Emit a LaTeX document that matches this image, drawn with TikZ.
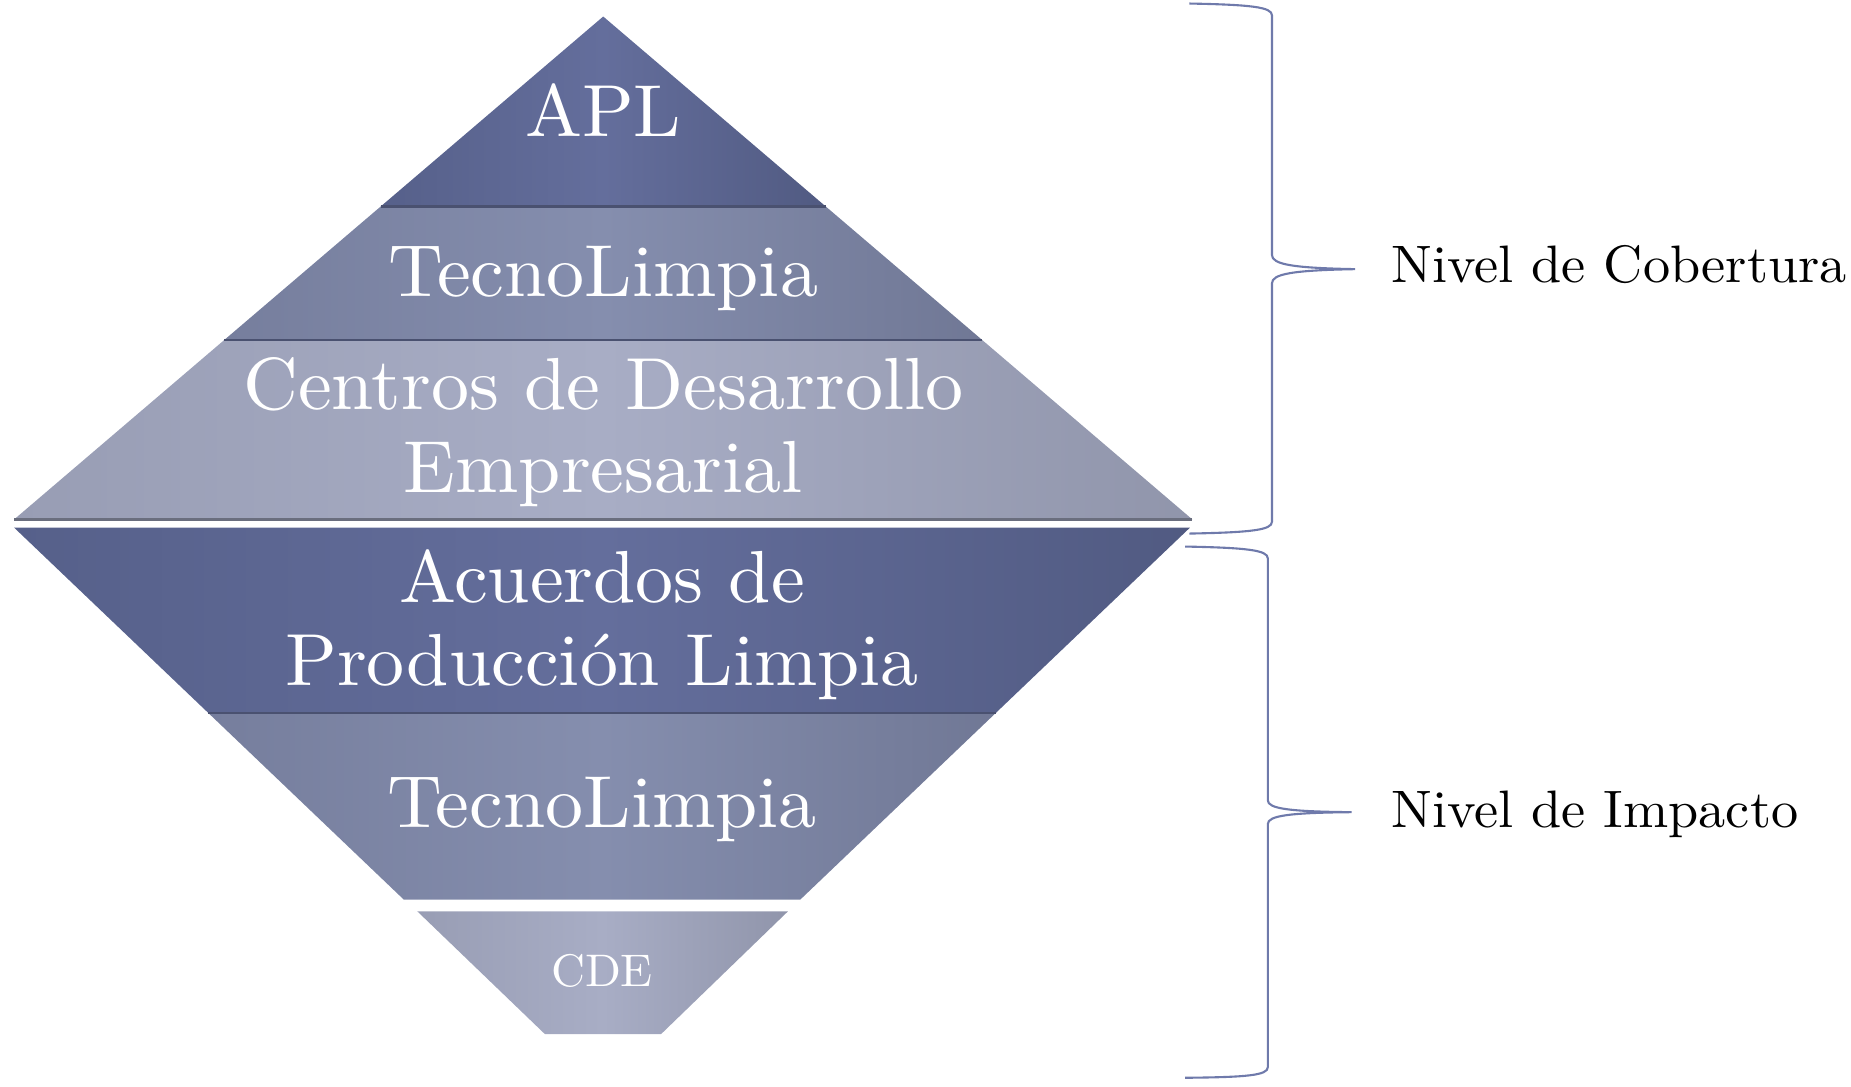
\documentclass[tikz,border=0pt]{standalone}
\usepackage{fontspec}
\setmainfont{lmroman10-regular.otf}[FakeStretch=1.03]
\usepackage{tikz}
\usetikzlibrary{positioning, calc}
\usepackage{xcolor}

\definecolor{darkedge}{HTML}{56608A}
\definecolor{darkmid}{HTML}{646E9C}
\definecolor{midedge}{HTML}{767E9D}
\definecolor{midmid}{HTML}{858EAE}
\definecolor{lightedge}{HTML}{989DB4}
\definecolor{lightmid}{HTML}{A8ADC5}
\definecolor{bracecol}{HTML}{6F7AAB}
\definecolor{shadowcol}{HTML}{4A5170}

\begin{document}
\begin{tikzpicture}[
    x=0.011805cm, y=-0.011805cm,
    darkband/.style={left color=darkedge, right color=darkedge!94!black, middle color=darkmid},
    midband/.style={left color=midedge, right color=midedge!95!black, middle color=midmid},
    lightband/.style={left color=lightedge, right color=lightedge!95!black, middle color=lightmid},
    sep/.style={draw=shadowcol, line width=0.8pt},
    bandtext/.style={text=white, font=\fontsize{21}{23.5}\selectfont, align=center, inner sep=0pt},
    smalltext/.style={text=white, font=\fontsize{13}{15}\selectfont, inner sep=0pt},
    lvl/.style={font=\fontsize{15}{17}\selectfont, inner sep=0pt, anchor=base west},
    brace/.style={draw=bracecol, line width=0.6pt}
]
    \useasboundingbox (0,0) rectangle (1568,920);

    % upper pyramid
    \shade[darkband] (511,14) -- (699.6,175) -- (322.4,175) -- cycle;
    \shade[midband] (322.4,175) -- (699.6,175) -- (832,288) -- (190,288) -- cycle;
    \shade[lightband] (190,288) -- (832,288) -- (1010,440) -- (12,440) -- cycle;
    \draw[sep] (322.4,175) -- (699.6,175);
    \draw[sep] (190,288) -- (832,288);
    \draw[draw=lightedge!70!black, line width=0.8pt] (12,440) -- (1010,440);

    % lower pyramid
    \shade[darkband] (12,447) -- (1008,447) -- (843.5,604) -- (176.5,604) -- cycle;
    \shade[midband] (176.5,604) -- (843.5,604) -- (678,762) -- (342,762) -- cycle;
    \shade[lightband] (353.5,772) -- (667.5,772) -- (560,876) -- (461.6,876) -- cycle;
    \draw[sep] (176.5,604) -- (843.5,604);

    \node[bandtext] (apl) at (511,93) {APL};
    \node[bandtext] (tecnoup) at (511,235.5) {TecnoLimpia};
    \node[bandtext] (centros) at (511,366) {Centros de Desarrollo\\Empresarial};
    \node[bandtext] (acuerdos) at (510,529) {Acuerdos de\\Producción Limpia};
    \node[bandtext] (tecnodown) at (510,685.5) {TecnoLimpia};
    \node[smalltext] (cde) at (510,822.6) {CDE};

    % braces
    \coordinate (cobtip) at (1148,228);
    \coordinate (imptip) at (1145,688);
    \draw[brace] (1007.5,3) .. controls (1060,4) and (1077.5,6) .. (1077.5,13) -- (1077.5,216)
        .. controls (1077.5,224) and (1095,227) .. (cobtip)
        .. controls (1095,229) and (1077.5,232) .. (1077.5,240) -- (1077.5,442)
        .. controls (1077.5,449) and (1060,451) .. (1007.5,452);
    \draw[brace] (1004,463) .. controls (1056,464) and (1074,466) .. (1074,473) -- (1074,678)
        .. controls (1074,685) and (1092,687.5) .. (imptip)
        .. controls (1092,688.5) and (1074,691) .. (1074,698) -- (1074,904)
        .. controls (1074,911) and (1056,912.5) .. (1004,913);

    \node[lvl] (cobertura) at (1178,239) {Nivel de Cobertura};
    \node[lvl] (impacto) at (1178,701) {Nivel de Impacto};
\end{tikzpicture}
\end{document}
